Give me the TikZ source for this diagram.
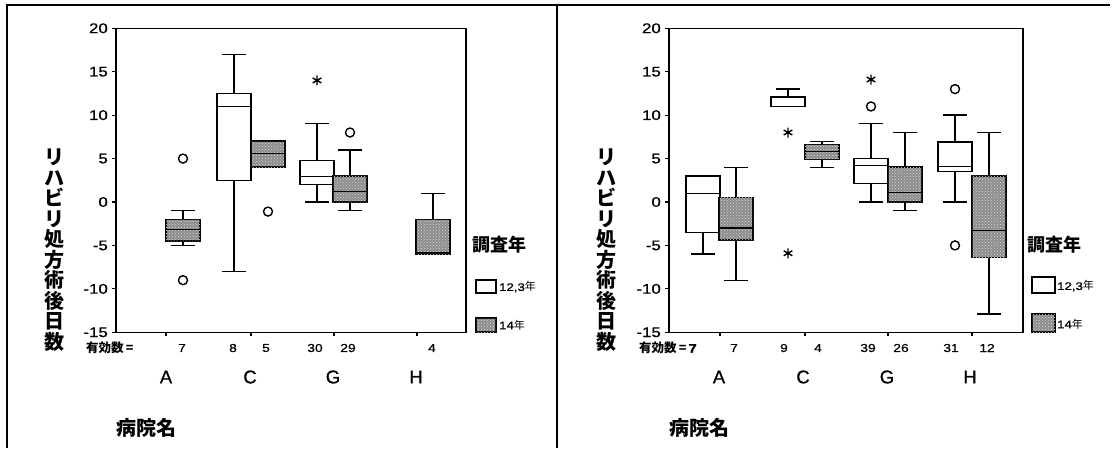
\documentclass[tikz,border=0pt]{standalone}
\usepackage{fontspec}
\setmainfont{Liberation Sans}[FakeBold=0.8]
\newfontfamily\numf{Liberation Sans}[FakeStretch=1.2,FakeBold=0.8]
\newfontfamily\jp{Noto Sans CJK JP}
\usetikzlibrary{patterns}
\tikzset{
  frm/.style={line width=1.2pt, draw=black},
  whisk/.style={line width=1.3pt, draw=black},
  wbox/.style={line width=1.3pt, draw=black, fill=white},
  gbox/.style={line width=1.6pt, draw=black, fill=black!45, postaction={pattern=crosshatch dots, pattern color=white!85!black}},
  med/.style={line width=1.3pt, draw=black},
  outl/.style={line width=1.4pt, draw=black},
  tick/.style={font=\numf\fontsize{14}{14}\selectfont, anchor=east, inner sep=0pt},
  cnt/.style={font=\numf\fontsize{11.5}{11.5}\selectfont, inner sep=0pt},
  cat/.style={font=\fontsize{18.5}{18.5}\selectfont, inner sep=0pt},
  jpl/.style={font=\jp\bfseries\fontsize{20}{20.5}\selectfont, inner sep=0pt},
  jph/.style={font=\jp\bfseries\fontsize{18}{18}\selectfont, inner sep=0pt},
  jps/.style={font=\jp\bfseries\fontsize{12.5}{12.5}\selectfont, inner sep=0pt},
  leg/.style={font=\numf\fontsize{11}{11}\selectfont, inner sep=0pt, anchor=west},
}
\newcommand\Yv[1]{{202-8.686*(#1)}}
% #1 x, #2 q1, #3 q3, #4 median, #5 whisker low, #6 whisker high, #7 style
\newcommand\bplot[7]{%
  \draw[whisk] (#1,\Yv{#3}) -- (#1,\Yv{#6});
  \draw[whisk] (#1-12,\Yv{#6}) -- (#1+12,\Yv{#6});
  \draw[whisk] (#1,\Yv{#2}) -- (#1,\Yv{#5});
  \draw[whisk] (#1-12,\Yv{#5}) -- (#1+12,\Yv{#5});
  \draw[#7] (#1-17,\Yv{#2}) rectangle (#1+17,\Yv{#3});
  \draw[med] (#1-17,\Yv{#4}) -- (#1+17,\Yv{#4});
}
\newcommand\circo[2]{\draw[outl] (#1,\Yv{#2}) circle (4.5);}
\newcommand\staro[2]{%
  \draw[outl] (#1,\Yv{#2}) +(90:5) -- +(270:5) +(30:5) -- +(210:5) +(150:5) -- +(330:5);}
% panel frame: #1 left x, #2 right x
\newcommand\panelframe[2]{%
  \draw[frm] (#1,28.3) rectangle (#2,332.3);
  \foreach \v in {20,15,10,5,0,-5,-10,-15}{
    \draw[frm] (#1,\Yv{\v}) -- ++(-4,0);
    \node[tick] at (#1-8,\Yv{\v}) {\v};
  }
}
\begin{document}
\begin{tikzpicture}[x=1pt,y=-1pt]
\useasboundingbox[fill=white] (0,0) rectangle (1113,448);
% outer borders
\draw[line width=1.2pt] (7,448) -- (7,5) -- (1110,5);
\draw[line width=1.6pt] (557,5) -- (557,448);

%%%%% LEFT PANEL
\panelframe{116}{466}
\foreach \c in {166,251,334,417}{\draw[frm] (\c,332.3) -- ++(0,4);}
\bplot{183}{-4.5}{-2}{-3.2}{-5}{-1}{gbox}
\circo{183}{5}\circo{183}{-9}
\bplot{234}{2.5}{12.5}{11}{-8}{17}{wbox}
\bplot{268}{4}{7}{5.6}{4}{7}{gbox}
\circo{268}{-1.1}
\bplot{317}{2}{4.8}{2.9}{0}{9}{wbox}
\staro{317}{14}
\bplot{350}{0}{3}{1.2}{-1}{6}{gbox}
\circo{350}{8}
\bplot{433}{-6}{-2}{-5.8}{-6}{1}{gbox}
% labels
\node[jpl, align=center] at (54,250) {リ\\ハ\\ビ\\リ\\処\\方\\術\\後\\日\\数};
\node[jps, anchor=west] at (86,348) {有効数\,=};
\node[cnt] at (182,348) {7};
\node[cnt] at (233,348) {8};
\node[cnt] at (266,348) {5};
\node[cnt] at (315,348) {30};
\node[cnt] at (348,348) {29};
\node[cnt] at (432,348) {4};
\node[cat] at (166,377) {A};
\node[cat] at (250,377) {C};
\node[cat] at (333,377) {G};
\node[cat] at (416,377) {H};
\node[jpl, anchor=west] at (116,428) {病院名};
\node[jph, anchor=west] at (472,245) {調査年};
\draw[wbox] (476,280) rectangle (496,293);
\node[leg] at (499,287) {12,3\jp 年};
\draw[gbox] (476,318) rectangle (496,332);
\node[leg] at (499,325) {14\jp 年};

%%%%% RIGHT PANEL
\panelframe{669}{1023}
\foreach \c in {720,805,888,972}{\draw[frm] (\c,332.3) -- ++(0,4);}
\bplot{703}{-3.5}{3}{1}{-6}{3}{wbox}
\bplot{736}{-4.4}{0.5}{-3}{-9}{4}{gbox}
\bplot{788}{11}{12.1}{11}{11}{13}{wbox}
\staro{788}{8}\staro{788}{-5.9}
\bplot{822}{4.9}{6.6}{5.8}{4}{7}{gbox}
\bplot{871}{2.1}{5}{4.2}{0}{9}{wbox}
\circo{871}{11}\staro{871}{14.1}
\bplot{905}{0}{4}{1.1}{-1}{8}{gbox}
\bplot{955}{3.5}{6.9}{4.1}{0}{10}{wbox}
\circo{955}{13}\circo{955}{-5}
\bplot{989}{-6.4}{3}{-3.3}{-12.9}{8}{gbox}
% labels
\node[jpl, align=center] at (606,250) {リ\\ハ\\ビ\\リ\\処\\方\\術\\後\\日\\数};
\node[jps, anchor=west] at (639,348) {有効数\,=\,{\numf 7}};
\node[cnt] at (734,348) {7};
\node[cnt] at (784,348) {9};
\node[cnt] at (818,348) {4};
\node[cnt] at (868,348) {39};
\node[cnt] at (901,348) {26};
\node[cnt] at (951,348) {31};
\node[cnt] at (987,348) {12};
\node[cat] at (719,377) {A};
\node[cat] at (803,377) {C};
\node[cat] at (887,377) {G};
\node[cat] at (970,377) {H};
\node[jpl, anchor=west] at (669,428) {病院名};
\node[jph, anchor=west] at (1027,245) {調査年};
\draw[wbox] (1032,277) rectangle (1055,293);
\node[leg] at (1057,286) {12,3\jp 年};
\draw[gbox] (1032,314) rectangle (1055,332);
\node[leg] at (1057,324) {14\jp 年};
\end{tikzpicture}
\end{document}
